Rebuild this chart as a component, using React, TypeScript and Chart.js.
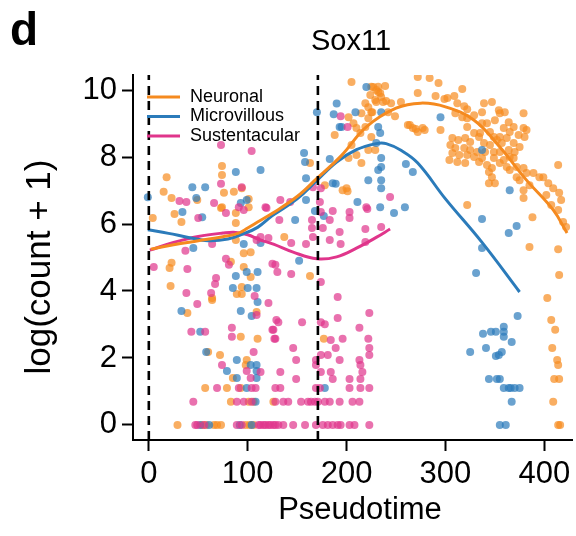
import React, { useEffect, useRef } from 'react';
import { Chart, registerables } from 'chart.js';

Chart.register(...registerables);

const FONT = '"Liberation Sans", Arial, Helvetica, sans-serif';

const xTicks = [0, 100, 200, 300, 400];
const yTicks = [0, 2, 4, 6, 8, 10];
const X_MIN = -16;
const X_MAX = 428;
const Y_MIN = -0.45;
const Y_MAX = 10.45;
const dashedX = [0, 171];

const seriesNames = ['Neuronal', 'Microvillous', 'Sustentacular'];
const lineColors = ['#F58A1F', '#2B7BBA', '#E0358B'];
const pointColors = ['rgba(246,140,32,0.7)', 'rgba(43,123,186,0.7)', 'rgba(224,53,139,0.7)'];

const neuronalPoints: [number, number][] = [
  [4, 6.18], [15, 6.96], [18, 7.4], [23, 6.78], [26, 6.3], [33, 6.06], [49, 6.72], [73, 6.48], [74, 7.73], [74, 7.46],
  [74, 6.5], [76, 6.93], [86, 6.96], [88, 6.33], [88, 6.03], [94, 7.07], [101, 6.75], [101, 6.5],
  [88, 5.52], [96, 5.13], [103, 5.16], [23, 4.84], [21, 4.69], [83, 4.87], [96, 4.72], [103, 4.42], [22, 4.15], [94, 4.12],
  [64, 3.79], [89, 3.91], [94, 3.91], [64, 3.73], [39, 3.34], [109, 3.37], [93, 2.63], [110, 2.57], [60, 2.18], [72, 2.09],
  [99, 1.94], [98, 1.79], [85, 1.4], [57, 1.1], [79, 1.1], [93, 1.1], [83, 0.69], [101, 0.69], [106, 0.69], [126, 0.69],
  [177, 2.57], [163, 4.45], [137, 5.61], [163, 7.82], [178, 7.16], [196, 7.01], [201, 6.98], [188, 8.66], [200, 7.07],
  [29, 0], [54, 0], [58, 0], [66, 0], [69, 0], [73, 0], [98, 0], [102, 0], [106, 0],
  [205, 10.24], [227, 10.09], [225, 10.1], [232, 10.1], [239, 10.12], [232, 9.94], [235, 9.79], [230, 9.64], [240, 9.67],
  [245, 9.61], [255, 9.64], [272, 10.39], [284, 10.36], [293, 10.21], [272, 9.91], [290, 9.82], [299, 9.73], [302, 9.76],
  [309, 9.82], [317, 10.03], [312, 9.61], [226, 9.34], [242, 9.34], [249, 9.22], [319, 9.52], [322, 9.43], [310, 9.31],
  [317, 9.19], [322, 9.16], [329, 9.25], [339, 9.61], [347, 9.64], [354, 9.4], [355, 9.31], [360, 9.34], [379, 9.31],
  [337, 9.34], [337, 9.01], [342, 9.01], [350, 9.1], [364, 9.04], [369, 8.9], [382, 8.81], [379, 8.87], [264, 8.96],
  [270, 8.84], [277, 8.87], [295, 8.81], [322, 8.9], [329, 8.72], [335, 8.72], [345, 8.75], [349, 8.6], [355, 8.6],
  [359, 8.87], [365, 8.75], [374, 8.66], [380, 8.6], [307, 8.57], [313, 8.51], [320, 8.57], [325, 8.45], [334, 8.6],
  [339, 8.42], [345, 8.36], [352, 8.51], [357, 8.42], [362, 8.57], [369, 8.42], [375, 8.3], [364, 8.21], [370, 8.15],
  [305, 8.36], [310, 8.27], [319, 8.27], [325, 8.21], [332, 8.15], [340, 8.15], [349, 8.15], [355, 8.15], [307, 8.12],
  [314, 8.06], [322, 8.06], [329, 8.0], [337, 7.97], [349, 7.97], [359, 7.91], [365, 8.0], [304, 7.91], [312, 7.85],
  [320, 7.82], [334, 7.85], [342, 7.76], [347, 7.67], [355, 7.82], [362, 7.7], [372, 7.7], [379, 7.67], [369, 7.97],
  [344, 7.55], [347, 7.4], [344, 7.22], [350, 7.22], [365, 7.61], [372, 7.4], [375, 7.31], [382, 7.52], [389, 7.52],
  [395, 7.4], [399, 7.4], [404, 7.22], [409, 7.07], [414, 7.76], [385, 7.16], [379, 7.01], [379, 6.78], [402, 6.87],
  [415, 6.93], [417, 6.72], [407, 6.57], [414, 6.42], [388, 6.2], [322, 6.57], [419, 6.06], [422, 5.91],
  [202, 9.19], [207, 9.01], [210, 8.87], [214, 8.72], [219, 8.9], [222, 9.16], [225, 9.34], [229, 9.7], [237, 9.64],
  [234, 9.91], [230, 10.0], [224, 9.85], [219, 9.61], [222, 9.49], [215, 9.31], [205, 8.36], [210, 8.06], [202, 7.97],
  [215, 7.82], [225, 8.6], [222, 8.21], [229, 8.21], [262, 8.96], [267, 8.87], [272, 8.75], [279, 8.81],
  [385, 5.31], [414, 5.25], [415, 4.48], [403, 3.79], [407, 3.13], [411, 2.84], [408, 2.3], [413, 1.94], [414, 1.79],
  [410, 1.37], [415, 1.37], [409, 0.69], [414, 0], [416, 0],
];

const microvillousPoints: [number, number][] = [
  [-1, 6.8], [88, 7.55], [113, 7.61], [44, 7.1], [57, 7.1], [48, 6.78], [99, 6.72], [34, 6.36], [54, 6.2], [93, 6.63],
  [96, 5.4], [45, 5.28], [99, 4.57], [88, 4.45], [85, 4.09], [100, 4.09], [109, 4.09], [33, 3.4], [93, 3.4], [104, 3.25],
  [52, 2.78], [58, 2.18], [89, 1.94], [103, 1.79], [109, 1.79], [79, 1.61], [109, 1.61], [89, 1.4], [109, 1.4], [99, 1.1],
  [108, 0.69], [52, 0], [61, 0], [92, 0], [104, 0], [110, 3.67], [110, 4.57], [113, 5.43], [178, 1.1], [152, 4.9],
  [157, 8.12], [158, 7.85], [183, 7.94], [159, 7.37], [186, 7.22], [189, 7.2], [159, 6.72], [211, 6.66], [168, 6.39],
  [148, 6.12], [177, 6.24], [193, 8.9], [170, 9.34], [190, 9.6], [187, 9.28], [195, 8.9], [209, 9.34], [220, 10.09],
  [235, 9.34], [232, 8.9], [234, 8.72], [230, 8.42], [235, 7.97], [235, 7.7], [232, 7.61], [235, 7.31], [235, 7.07],
  [222, 7.31], [234, 6.5], [248, 6.33], [259, 6.5], [260, 7.79], [267, 7.55], [295, 9.19], [337, 8.21], [365, 7.01],
  [337, 6.15], [372, 5.94], [364, 5.73], [337, 5.28], [331, 4.54], [373, 3.25], [359, 2.93], [338, 2.72], [346, 2.78],
  [351, 2.78], [359, 2.78], [359, 2.63], [367, 2.48], [325, 2.18], [341, 2.3], [357, 2.18], [354, 2.09], [351, 2.06],
  [344, 1.37], [352, 1.37], [355, 1.37], [359, 1.1], [364, 1.1], [366, 1.1], [370, 1.1], [375, 1.1], [367, 0.69],
  [355, 0], [361, 0],
];

const sustentacularPoints: [number, number][] = [
  [73, 8.36], [104, 8.18], [31, 6.69], [38, 6.66], [66, 6.63], [91, 6.5], [78, 6.33], [50, 6.18], [118, 6.5], [73, 7.2],
  [94, 7.1], [96, 6.42], [109, 5.52], [37, 5.2], [64, 5.4], [5, 4.72], [39, 4.66], [78, 4.96], [81, 4.78], [68, 4.39],
  [67, 4.21], [38, 3.94], [63, 3.94], [107, 3.85], [49, 3.61], [43, 2.78], [57, 2.78], [84, 2.9], [84, 2.63], [106, 2.18],
  [74, 1.79], [99, 1.61], [103, 1.4], [69, 1.1], [91, 1.1], [104, 1.1], [108, 1.1], [128, 1.1], [45, 0.69], [89, 0.69],
  [96, 0.69], [104, 0.69], [128, 0.69], [47, 0], [49, 0], [56, 0], [89, 0], [94, 0], [113, 0], [118, 0], [123, 0], [128, 0],
  [128, 4.78], [129, 3.13], [126, 2.84], [128, 2.57], [109, 3.28],
  [111, 0], [116, 0], [121, 0], [126, 0], [131, 0], [136, 0], [146, 0], [158, 0], [169, 0], [176, 0], [181, 0], [186, 0],
  [191, 0], [194, 0], [203, 0], [208, 0], [223, 0],
  [136, 0.69], [141, 0.69], [154, 0.69], [161, 0.69], [164, 0.69], [168, 0.69], [171, 0.69], [178, 0.69], [183, 0.69],
  [193, 0.69], [206, 0.69], [213, 0.69],
  [133, 1.1], [169, 1.1], [173, 1.1], [203, 1.1], [214, 1.1], [223, 1.1],
  [149, 1.37], [186, 1.37], [203, 1.37], [214, 1.37],
  [113, 1.58], [133, 1.58], [174, 1.58], [184, 1.58], [216, 1.58],
  [169, 1.79], [214, 1.79], [149, 1.94], [169, 1.94], [193, 1.94], [213, 1.94],
  [174, 2.09], [181, 2.09], [223, 2.09], [146, 2.3], [189, 2.3], [223, 2.3],
  [127, 2.57], [184, 2.54], [196, 2.57], [222, 2.57], [125, 2.84], [174, 3.07], [178, 3.01], [213, 2.9],
  [131, 3.07], [155, 3.07], [191, 3.19], [223, 3.34], [121, 3.64],
  [194, 9.22], [201, 8.9], [166, 7.1], [174, 7.07], [133, 6.72], [143, 6.66], [173, 6.66], [174, 6.36], [119, 6.48],
  [186, 6.39], [203, 6.36], [221, 6.45], [132, 6.12], [165, 6.12], [183, 6.12], [203, 6.18], [165, 5.88], [176, 5.88],
  [193, 5.76], [219, 5.85], [113, 5.61], [121, 5.58], [166, 5.61], [183, 5.52], [144, 5.43], [159, 5.4], [194, 5.4],
  [219, 5.46], [125, 4.81], [130, 4.57], [144, 4.51], [174, 4.27], [191, 3.82], [244, 6.81], [220, 6.5], [235, 5.91],
];

const neuronalCurveX = [2, 25, 50, 75, 90, 100, 110, 125, 150, 170, 195, 220, 250, 275, 300, 329, 355, 382, 409, 423];
const neuronalCurveY = [5.25, 5.38, 5.5, 5.62, 5.72, 5.88, 6.06, 6.32, 6.82, 7.36, 8.05, 8.9, 9.46, 9.61, 9.5, 9.1, 8.3, 7.31, 6.42, 5.73];

const microvillousCurveX = [-1, 20, 40, 60, 80, 95, 110, 125, 150, 170, 190, 210, 230, 240, 255, 272, 300, 337, 375];
const microvillousCurveY = [5.83, 5.72, 5.6, 5.5, 5.55, 5.7, 5.9, 6.25, 6.75, 7.3, 7.85, 8.22, 8.4, 8.4, 8.2, 7.82, 6.75, 5.45, 3.97];

const sustentacularCurveX = [1, 25, 50, 75, 88, 100, 112, 126, 146, 170, 190, 210, 230, 244];
const sustentacularCurveY = [5.22, 5.45, 5.63, 5.73, 5.75, 5.68, 5.53, 5.4, 5.16, 4.96, 5.02, 5.28, 5.6, 5.85];

const pointsList = [neuronalPoints, microvillousPoints, sustentacularPoints];
const curveList = [
  [neuronalCurveX, neuronalCurveY],
  [microvillousCurveX, microvillousCurveY],
  [sustentacularCurveX, sustentacularCurveY],
];

const textPlugin = {
  id: 'figureText',
  afterDraw(chart: any) {
    const ctx = chart.ctx as CanvasRenderingContext2D;
    ctx.save();
    ctx.fillStyle = '#000';
    ctx.textAlign = 'left';
    ctx.textBaseline = 'alphabetic';
    ctx.font = `bold 46px ${FONT}`;
    ctx.fillText('d', 10, 45);

    ctx.textAlign = 'center';
    ctx.textBaseline = 'middle';
    ctx.font = `29px ${FONT}`;
    ctx.fillText('Sox11', 351, 42);

    ctx.font = `31px ${FONT}`;
    ctx.fillText('Pseudotime', 360, 510);

    ctx.save();
    ctx.translate(40, 267);
    ctx.rotate(-Math.PI / 2);
    ctx.font = `35px ${FONT}`;
    ctx.fillText('log(count + 1)', 0, 0);
    ctx.restore();

    // legend
    ctx.font = `18px ${FONT}`;
    ctx.textAlign = 'left';
    const lx = chart.chartArea.left + 14;
    const ly = chart.chartArea.top + 22;
    seriesNames.forEach((name, i) => {
      const y = ly + i * 19.5;
      ctx.strokeStyle = lineColors[i];
      ctx.lineWidth = 3;
      ctx.beginPath();
      ctx.moveTo(lx, y);
      ctx.lineTo(lx + 33, y);
      ctx.stroke();
      ctx.fillStyle = '#000';
      ctx.fillText(name, lx + 43, y);
    });
    ctx.restore();
  },
};

export default function App() {
  const canvasRef = useRef<HTMLCanvasElement | null>(null);

  useEffect(() => {
    document.body.style.margin = '0';
    const canvas = canvasRef.current;
    if (!canvas) return;

    const datasets: any[] = [];
    dashedX.forEach((v) => {
      datasets.push({
        type: 'line',
        data: [{ x: v, y: Y_MIN }, { x: v, y: Y_MAX }],
        borderColor: '#000',
        borderWidth: 2.6,
        borderDash: [9, 6],
        pointRadius: 0,
        showLine: true,
        order: 0,
      });
    });
    curveList.forEach(([xs, ys], i) => {
      datasets.push({
        type: 'line',
        label: seriesNames[i],
        data: xs.map((x, k) => ({ x, y: ys[k] })),
        borderColor: lineColors[i],
        borderWidth: 3,
        pointRadius: 0,
        tension: 0.4,
        showLine: true,
        fill: false,
        order: 1,
      });
    });
    pointsList.forEach((pts, i) => {
      datasets.push({
        type: 'scatter',
        label: seriesNames[i] + ' cells',
        data: pts.map(([x, y]) => ({ x, y })),
        pointRadius: 4,
        pointBorderWidth: 0,
        pointBackgroundColor: pointColors[i],
        backgroundColor: pointColors[i],
        borderColor: 'rgba(0,0,0,0)',
        showLine: false,
        order: 4 - i,
      });
    });

    const chart = new Chart(canvas, {
      type: 'scatter',
      data: { datasets },
      options: {
        animation: false,
        responsive: false,
        devicePixelRatio: 1,
        layout: { padding: { top: 75, right: 0, bottom: 0, left: 0 } },
        plugins: { legend: { display: false }, tooltip: { enabled: false }, title: { display: false } },
        scales: {
          x: {
            type: 'linear',
            min: X_MIN,
            max: X_MAX,
            afterBuildTicks: (s: any) => { s.ticks = xTicks.map((v) => ({ value: v })); },
            afterFit: (s: any) => { s.height = 96; },
            grid: { drawOnChartArea: false, drawTicks: true, tickLength: 11, tickWidth: 2, tickColor: '#000' },
            border: { display: true, color: '#000', width: 2 },
            ticks: { color: '#000', font: { size: 31, family: FONT }, padding: 5, maxRotation: 0, autoSkip: false },
          },
          y: {
            type: 'linear',
            min: Y_MIN,
            max: Y_MAX,
            afterBuildTicks: (s: any) => { s.ticks = yTicks.map((v) => ({ value: v })); },
            afterFit: (s: any) => { s.width = 133; },
            grid: { drawOnChartArea: false, drawTicks: true, tickLength: 11, tickWidth: 2, tickColor: '#000' },
            border: { display: true, color: '#000', width: 2 },
            ticks: { color: '#000', font: { size: 31, family: FONT }, padding: 5, autoSkip: false },
          },
        },
      },
      plugins: [textPlugin],
    });

    return () => chart.destroy();
  }, []);

  return (
    <div style={{ position: 'absolute', left: 0, top: 0, width: 576, height: 536, background: '#fff' }}>
      <canvas ref={canvasRef} width={576} height={536} style={{ display: 'block' }} />
    </div>
  );
}
